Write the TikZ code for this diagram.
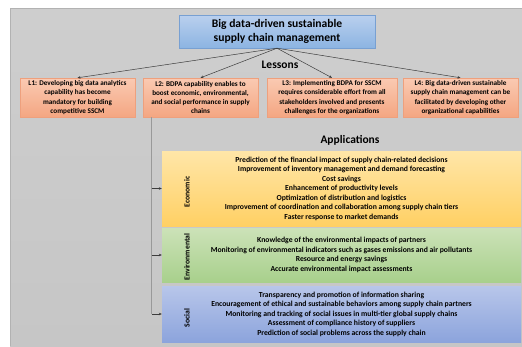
\documentclass[tikz,border=0pt]{standalone}
\usepackage{fontspec}
\setmainfont{Carlito}
\usetikzlibrary{arrows.meta}
\definecolor{panelgray}{RGB}{206,206,206}
\definecolor{panelgrayB}{RGB}{198,198,198}
\definecolor{titleTop}{RGB}{186,208,238}
\definecolor{titleBot}{RGB}{140,180,226}
\definecolor{titleLine}{RGB}{120,160,210}
\definecolor{lessonTop}{RGB}{250,202,178}
\definecolor{lessonBot}{RGB}{244,166,130}
\definecolor{lessonLine}{RGB}{238,160,125}
\definecolor{ecoTop}{RGB}{255,230,168}
\definecolor{ecoBot}{RGB}{255,208,100}
\definecolor{envTop}{RGB}{204,226,184}
\definecolor{envBot}{RGB}{168,208,140}
\definecolor{socTop}{RGB}{184,198,234}
\definecolor{socBot}{RGB}{140,164,220}
\definecolor{linkgray}{RGB}{60,60,60}
\tikzset{
  titlebox/.style={draw=titleLine, line width=0.4pt, top color=titleTop, bottom color=titleBot,
    minimum width=196pt, minimum height=33pt, align=center, inner sep=1pt,
    font=\fontsize{11.6}{14}\selectfont\bfseries},
  lessonbox/.style={draw=lessonLine, line width=0.4pt, top color=lessonTop, bottom color=lessonBot,
    minimum height=39pt, align=center, inner sep=1pt,
    font=\fontsize{7.2}{9.3}\selectfont\bfseries},
  appbox/.style={draw=none, minimum width=359pt, align=center, inner sep=1pt,
    font=\fontsize{7.7}{9.5}\selectfont\bfseries},
  sidelabel/.style={rotate=90, font=\fontsize{7.7}{8}\selectfont\bfseries, inner sep=0pt},
  heading/.style={font=\fontsize{11.5}{13}\selectfont\bfseries, inner sep=0pt},
  link/.style={draw=linkgray, line width=0.5pt, -{Stealth[length=3pt,width=2.6pt]}},
  trunk/.style={draw=gray!80, line width=0.8pt}
}
\begin{document}
\begin{tikzpicture}[x=1pt, y=-1pt]
  \useasboundingbox (0,0) rectangle (522,346);
  % panel background
  \shade[top color=panelgray, bottom color=panelgrayB] (10,8) rectangle (522,346);
  \draw[gray!60, line width=0.5pt] (10,346) -- (10,8) -- (522,8);

  % title and lessons
  \node[titlebox] (title) at (277,31.5) {Big data-driven sustainable\\supply chain management};
  \node[heading] (lessons) at (280,65) {Lessons};

  \node[lessonbox, minimum width=115pt] (L1) at (77.5,97.5)
    {L1: Developing big data analytics\\capability has become\\mandatory for building\\competitive SSCM};
  \node[lessonbox, minimum width=115pt] (L2) at (200.5,97.5)
    {L2: BDPA capability enables to\\boost economic, environmental,\\and social performance in supply\\chains};
  \node[lessonbox, minimum width=130pt] (L3) at (332,97.5)
    {L3: Implementing BDPA for SSCM\\requires considerable effort from all\\stakeholders involved and presents\\challenges for the organizations};
  \node[lessonbox, minimum width=115pt] (L4) at (460.5,97.5)
    {L4: Big data-driven sustainable\\supply chain management can be\\facilitated by developing other\\organizational capabilities};

  \foreach \l in {L1,L2,L3,L4}
    \draw[link] (title.south) -- (\l.north);

  % applications
  \node[heading] (apps) at (350,140) {Applications};

  \node[appbox, top color=ecoTop, bottom color=ecoBot, minimum height=75pt] (eco) at (341.5,188.5)
    {Prediction of the financial impact of supply chain-related decisions\\
     Improvement of inventory management and demand forecasting\\
     Cost savings\\
     Enhancement of productivity levels\\
     Optimization of distribution and logistics\\
     Improvement of coordination and collaboration among supply chain tiers\\
     Faster response to market demands};
  \node[appbox, top color=envTop, bottom color=envBot, minimum height=54pt] (env) at (341.5,255)
    {Knowledge of the environmental impacts of partners\\
     Monitoring of environmental indicators such as gases emissions and air pollutants\\
     Resource and energy savings\\
     Accurate environmental impact assessments};
  \node[appbox, top color=socTop, bottom color=socBot, minimum height=56pt] (soc) at (341.5,314)
    {Transparency and promotion of information sharing\\
     Encouragement of ethical and sustainable behaviors among supply chain partners\\
     Monitoring and tracking of social issues in multi-tier global supply chains\\
     Assessment of compliance history of suppliers\\
     Prediction of social problems across the supply chain};

  \node[sidelabel] (ecoLab) at (187,192) {Economic};
  \node[sidelabel] (envLab) at (187,257) {Environmental};
  \node[sidelabel] (socLab) at (187,318) {Social};

  % trunk from L2 down to the application boxes
  \coordinate (trunkTop) at ([xshift=-49pt]L2.south);
  \coordinate (trunkBot) at (trunkTop |- soc.west);
  \draw[trunk] (trunkTop) -- (trunkBot);
  \foreach \b in {eco,env,soc}
    \draw[link] (trunkTop |- \b.west) -- (\b.west);
\end{tikzpicture}
\end{document}
